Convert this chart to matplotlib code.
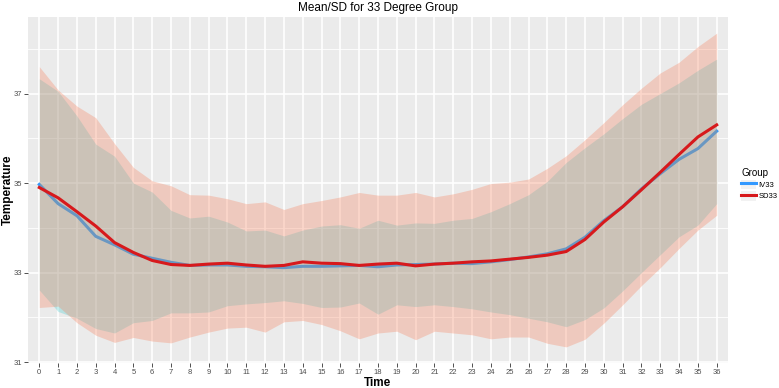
import matplotlib
matplotlib.use("Agg")
import matplotlib.pyplot as plt
from matplotlib.lines import Line2D
from matplotlib.patches import Patch
import numpy as np

plt.rcParams["font.family"] = ["Liberation Sans", "DejaVu Sans"]

# 33 degree group, hourly readings
TIME = list(range(37))

IV_MEAN = [34.97, 34.54, 34.27, 33.81, 33.62, 33.41, 33.32, 33.23, 33.16, 33.17,
           33.17, 33.14, 33.13, 33.11, 33.14, 33.14, 33.15, 33.16, 33.13, 33.17,
           33.18, 33.19, 33.21, 33.20, 33.24, 33.29, 33.35, 33.42, 33.53, 33.79,
           34.16, 34.47, 34.87, 35.21, 35.53, 35.77, 36.16]
IV_UPPER = [37.33, 37.05, 36.50, 35.87, 35.60, 35.00, 34.80, 34.39, 34.22, 34.26,
            34.13, 33.93, 33.95, 33.82, 33.95, 34.04, 34.07, 33.99, 34.17, 34.06,
            34.11, 34.10, 34.17, 34.21, 34.36, 34.54, 34.74, 35.04, 35.46, 35.79,
            36.10, 36.44, 36.76, 37.00, 37.24, 37.52, 37.77]
IV_LOWER = [32.61, 32.13, 31.98, 31.75, 31.65, 31.88, 31.93, 32.10, 32.10, 32.12,
            32.26, 32.30, 32.33, 32.37, 32.31, 32.22, 32.23, 32.32, 32.07, 32.28,
            32.24, 32.28, 32.24, 32.19, 32.12, 32.06, 31.98, 31.90, 31.79, 31.95,
            32.21, 32.59, 33.00, 33.40, 33.80, 34.06, 34.54]

SD_MEAN = [34.90, 34.67, 34.36, 34.04, 33.67, 33.45, 33.27, 33.18, 33.16, 33.19,
           33.21, 33.17, 33.14, 33.16, 33.24, 33.21, 33.20, 33.16, 33.19, 33.21,
           33.15, 33.19, 33.21, 33.24, 33.26, 33.30, 33.34, 33.39, 33.47, 33.74,
           34.13, 34.47, 34.85, 35.24, 35.64, 36.03, 36.30]
SD_UPPER = [37.60, 37.08, 36.72, 36.46, 35.88, 35.35, 35.05, 34.94, 34.74, 34.73,
            34.65, 34.54, 34.58, 34.41, 34.54, 34.61, 34.69, 34.79, 34.73, 34.73,
            34.79, 34.69, 34.76, 34.86, 34.99, 35.02, 35.09, 35.33, 35.61, 35.97,
            36.35, 36.75, 37.12, 37.46, 37.70, 38.05, 38.35]
SD_LOWER = [32.22, 32.25, 31.88, 31.60, 31.44, 31.55, 31.47, 31.43, 31.56, 31.67,
            31.76, 31.78, 31.67, 31.90, 31.93, 31.84, 31.70, 31.52, 31.65, 31.69,
            31.50, 31.69, 31.65, 31.61, 31.52, 31.56, 31.56, 31.42, 31.34, 31.51,
            31.87, 32.28, 32.71, 33.11, 33.54, 33.95, 34.28]

Y_MAJOR = [31, 33, 35, 37]
Y_MINOR = [32, 34, 36, 38]

LINE_COL = {"IV33": "#3399ff", "SD33": "#d7191c"}
FILL_COL = {"IV33": "#00BFC4", "SD33": "#F7835F"}

fig = plt.figure(figsize=(7.79, 3.88), dpi=100)
ax = fig.add_axes([28 / 779, 1 - 363 / 388, 700 / 779, 346 / 388])
ax.set_facecolor("#ebebeb")
for s in ax.spines.values():
    s.set_visible(False)

# grid
for y in Y_MINOR:
    ax.axhline(y, color="white", lw=0.6, zorder=0)
for y in Y_MAJOR:
    ax.axhline(y, color="white", lw=1.2, zorder=0)
for t in TIME:
    ax.axvline(t, color="white", lw=1.2, zorder=0)

t = np.array(TIME)
ax.plot(t, IV_MEAN, color=LINE_COL["IV33"], lw=2.2, zorder=2, solid_joinstyle="round")
ax.fill_between(t, IV_LOWER, IV_UPPER, color=FILL_COL["IV33"], alpha=0.22, lw=0, zorder=3)
ax.fill_between(t, SD_LOWER, SD_UPPER, color=FILL_COL["SD33"], alpha=0.32, lw=0, zorder=3)
ax.plot(t, SD_MEAN, color=LINE_COL["SD33"], lw=2.2, zorder=4, solid_joinstyle="round")

ax.set_xlim(-0.6, 36.6)
ax.set_ylim(30.98, 38.71)
ax.set_xticks(TIME)
ax.set_xticklabels([str(v) for v in TIME])
ax.set_yticks(Y_MAJOR)
ax.tick_params(axis="both", labelsize=5.5, labelcolor="#4d4d4d", color="#333333",
               length=3, width=0.6, pad=1.5)

ax.set_xlabel("Time", fontsize=8.5, fontweight="bold")
ax.xaxis.set_label_coords(0.5, (363 - 383) / 346)
ax.xaxis.label.set_va("center")
ax.set_ylabel("Temperature", fontsize=8.5, fontweight="bold")
ax.yaxis.set_label_coords((8 - 28) / 700, 0.5)
ax.yaxis.label.set_va("center")
ax.set_title("Mean/SD for 33 Degree Group", fontsize=8.5, pad=4)

handles = []
for g in ["IV33", "SD33"]:
    box = Patch(facecolor="#f2f2f2", edgecolor="none")
    ln = Line2D([], [], color=LINE_COL[g], lw=2.2)
    handles.append((box, ln))
leg = fig.legend(handles, ["IV33", "SD33"], title="Group", loc="upper left",
                 bbox_to_anchor=(741 / 779, 1 - 168 / 388), frameon=False,
                 fontsize=5.5, title_fontsize=7, handlelength=2.0, handleheight=1.6,
                 handletextpad=0.3, labelspacing=0.2, borderpad=0, borderaxespad=0)
leg._legend_box.align = "left"

fig.savefig("out.png", dpi=100)
